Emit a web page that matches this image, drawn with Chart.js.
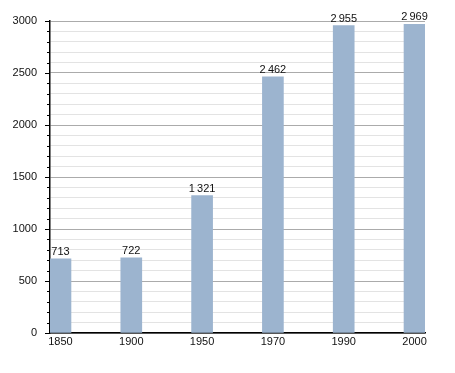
<!DOCTYPE html>
<html>
<head>
<meta charset="utf-8">
<script src="https://cdn.jsdelivr.net/npm/chart.js@4/dist/chart.umd.min.js"></script>
<style>
  html, body { margin: 0; padding: 0; background: #fff; }
  #wrap { width: 455px; height: 373px; }
</style>
</head>
<body>
<div id="wrap"><canvas id="popChart"></canvas></div>
<script>
// Population by census year
const years = ['1850', '1900', '1950', '1970', '1990', '2000'];
const population = [713, 722, 1321, 2462, 2955, 2969];
const yMax = 3000;

const fmt = v => String(v).replace(/\B(?=(\d{3})+(?!\d))/g, '\u2009');

// draws value labels above each bar and the small tick marks on the y axis
const extras = {
    id: 'extras',
    afterDatasetsDraw(chart) {
        const ctx = chart.ctx;
        const meta = chart.getDatasetMeta(0);
        ctx.save();
        ctx.font = '11px "Liberation Sans", Arial, sans-serif';
        ctx.fillStyle = '#111';
        ctx.textAlign = 'center';
        ctx.textBaseline = 'alphabetic';
        meta.data.forEach((bar, i) => {
            ctx.fillText(fmt(population[i]), bar.x, bar.y - 4);
        });

        const y = chart.scales.y;
        const left = chart.chartArea.left;
        ctx.strokeStyle = '#000';
        ctx.lineWidth = 1;
        for (let v = 0; v <= yMax; v += 100) {
            const py = Math.round(y.getPixelForValue(v)) + 0.5;
            const len = v % 500 === 0 ? 5 : 3;
            ctx.beginPath();
            ctx.moveTo(left - len, py);
            ctx.lineTo(left, py);
            ctx.stroke();
        }
        ctx.restore();
    }
};

Chart.defaults.font.family = '"Liberation Sans", Arial, sans-serif';
Chart.defaults.font.size = 11;
Chart.defaults.color = '#111';

new Chart(document.getElementById('popChart'), {
    type: 'bar',
    data: {
        datasets: [{
            data: population.map((v, i) => ({ x: i, y: v })),
            backgroundColor: '#9cb4cf',
            borderWidth: 0,
            barThickness: 21
        }]
    },
    options: {
        responsive: true,
        maintainAspectRatio: false,
        animation: false,
        layout: { padding: { top: 21, right: 30, left: 0, bottom: 0 } },
        plugins: {
            legend: { display: false },
            tooltip: { enabled: false }
        },
        scales: {
            x: {
                type: 'linear',
                offset: false,
                min: -0.148,
                max: 5.148,
                afterBuildTicks: s => { s.ticks = years.map((_, i) => ({ value: i })); },
                afterFit: s => { s.height = 40; },
                ticks: {
                    autoSkip: false,
                    maxRotation: 0,
                    padding: 2,
                    callback: v => years[v]
                },
                grid: { display: false, drawTicks: false, offset: false },
                border: { color: '#000', width: 1.5 }
            },
            y: {
                min: 0,
                max: yMax,
                afterBuildTicks: s => {
                    const t = [];
                    for (let v = 0; v <= yMax; v += 100) t.push({ value: v });
                    s.ticks = t;
                },
                afterFit: s => { s.width = 50; },
                ticks: {
                    autoSkip: false,
                    padding: 13,
                    callback: v => (v % 500 === 0 ? String(v) : '')
                },
                grid: {
                    drawTicks: false,
                    color: c => (c.tick && c.tick.value % 500 === 0 ? '#ababab' : '#e3e3e3')
                },
                border: { color: '#000', width: 1.5 }
            }
        }
    },
    plugins: [extras]
});
</script>
</body>
</html>
